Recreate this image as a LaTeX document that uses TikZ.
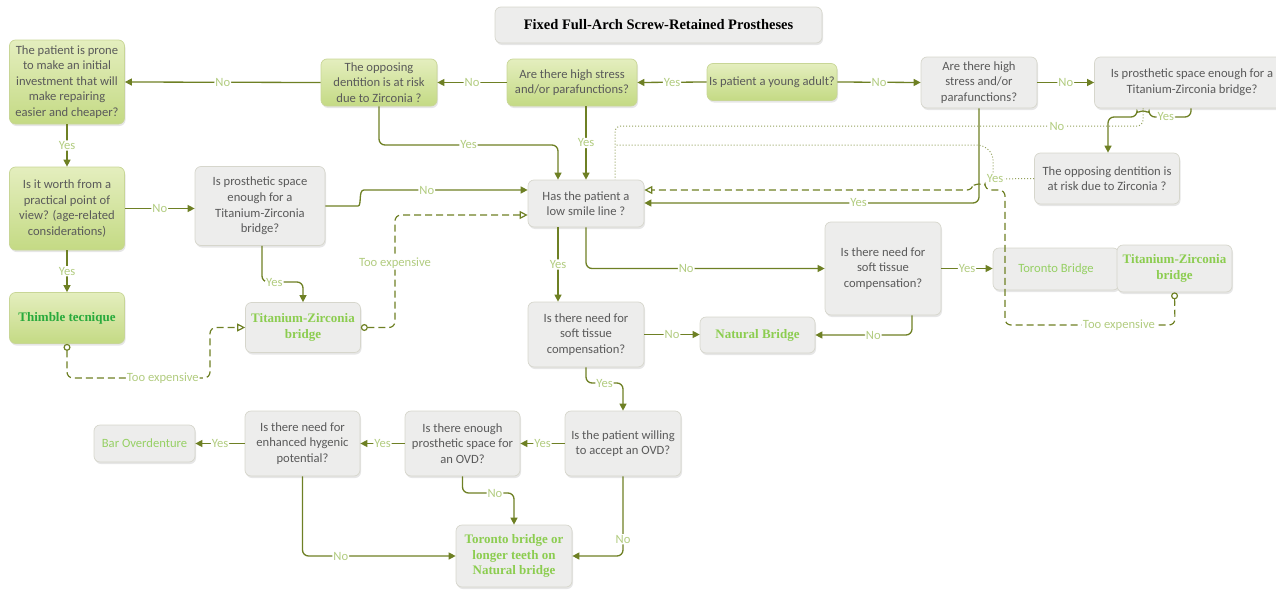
\documentclass[tikz,border=0pt]{standalone}
\usepackage{fontspec}
\setmainfont{Carlito}
\newfontfamily\serifb{Liberation Serif}
\usetikzlibrary{arrows.meta,shadows,calc}
\definecolor{lc}{RGB}{110,128,36}
\definecolor{labc}{RGB}{178,204,128}
\definecolor{txt}{RGB}{90,90,90}
\definecolor{gtop}{RGB}{228,238,190}
\definecolor{gbot}{RGB}{196,218,132}
\definecolor{gborder}{RGB}{200,214,150}
\definecolor{qfill}{RGB}{237,237,236}
\definecolor{qborder}{RGB}{214,214,204}
\definecolor{resg}{RGB}{140,205,80}
\definecolor{thimg}{RGB}{40,170,60}
\definecolor{lightres}{RGB}{150,208,100}
\begin{document}
\begin{tikzpicture}[x=1pt,y=-1pt,
  base/.style={rectangle, rounded corners=6pt, align=center,
    font=\fontsize{12.6}{15.6}\selectfont, text=txt, inner sep=1pt, line width=0.7pt,
    drop shadow={opacity=0.2, shadow xshift=1pt, shadow yshift=-2pt}},
  gbox/.style={base, draw=gborder, top color=gtop, bottom color=gbot},
  qbox/.style={base, draw=qborder, fill=qfill},
  res/.style={font=\serifb\bfseries\fontsize{13}{15.5}\selectfont, text=resg},
  lres/.style={text=lightres},
  lab/.style={font=\fontsize{12.6}{12.6}\selectfont, text=labc, fill=white, inner sep=1pt},
  arr/.style={draw=lc, line width=1.3pt, rounded corners=6pt, -{Triangle[length=7pt,width=7pt]}},
  dasharr/.style={draw=lc, line width=1.2pt, rounded corners=6pt, dash pattern=on 7pt off 4pt,
    {Circle[open,length=7pt,width=7pt,fill=white]}-{Triangle[open,length=8pt,width=8pt,fill=white]}},
  dotl/.style={draw=lc!75, line width=1pt, rounded corners=6pt, dotted}]
\useasboundingbox (0,0) rectangle (1276,589);

% title
\node[qbox, minimum width=327, minimum height=36,
  font=\serifb\bfseries\fontsize{14.5}{16}\selectfont, text=black] (T) at (658.5,25)
  {Fixed Full-Arch Screw-Retained Prostheses};

% nodes
\node[gbox, minimum width=115, minimum height=84] (A1) at (67,82)
  {The patient is prone\\to make an initial\\investment that will\\make repairing\\easier and cheaper?};
\node[gbox, minimum width=115, minimum height=83] (A2) at (67,208.5)
  {Is it worth from a\\practical point of\\view? (age-related\\considerations)};
\node[gbox, res, text=thimg, minimum width=115, minimum height=51] (A3) at (67,318)
  {Thimble tecnique};
\node[qbox, minimum width=130, minimum height=79] (B1) at (260,206)
  {Is prosthetic space\\enough for a\\Titanium-Zirconia\\bridge?};
\node[qbox, res, minimum width=115, minimum height=50] (B2) at (303,327.5)
  {Titanium-Zirconia\\bridge};
\node[gbox, minimum width=116, minimum height=47] (C1) at (379,82.5)
  {The opposing\\dentition is at risk\\due to Zirconia ?};
\node[gbox, minimum width=130, minimum height=47] (C2) at (572,82.5)
  {Are there high stress\\and/or parafunctions?};
\node[gbox, minimum width=130, minimum height=37] (C3) at (772,82)
  {Is patient a young adult?};
\node[qbox, minimum width=116, minimum height=51] (C4) at (979,82.5)
  {Are there high\\stress and/or\\parafunctions?};
\node[qbox, minimum width=195, minimum height=51] (C5) at (1192,82.5)
  {Is prosthetic space enough for a\\Titanium-Zirconia bridge?};
\node[qbox, minimum width=116, minimum height=47] (D) at (586,203.5)
  {Has the patient a\\low smile line ?};
\node[qbox, minimum width=145, minimum height=51] (E) at (1107,178.5)
  {The opposing dentition is\\at risk due to Zirconia ?};
\node[qbox, minimum width=116, minimum height=93] (F) at (883,268.5)
  {Is there need for\\soft tissue\\compensation?};
\node[qbox, lres, minimum width=126, minimum height=42] (G) at (1056,269)
  {Toronto Bridge};
\node[qbox, res, minimum width=115, minimum height=47] (H) at (1174.5,268.5)
  {Titanium-Zirconia\\bridge};
\node[qbox, minimum width=116, minimum height=65] (I) at (586,334.5)
  {Is there need for\\soft tissue\\compensation?};
\node[qbox, res, minimum width=115, minimum height=36] (J) at (757.5,335)
  {Natural Bridge};
\node[qbox, minimum width=116, minimum height=65] (K) at (623,443.5)
  {Is the patient willing\\to accept an OVD?};
\node[qbox, minimum width=115, minimum height=65] (L) at (462.5,443.5)
  {Is there enough\\prosthetic space for\\an OVD?};
\node[qbox, minimum width=115, minimum height=65] (M) at (302.5,443.5)
  {Is there need for\\enhanced hygenic\\potential?};
\node[qbox, lres, minimum width=101, minimum height=37] (N) at (144.5,443.5)
  {Bar Overdenture};
\node[qbox, res, minimum width=116, minimum height=62] (O) at (514,556)
  {Toronto bridge or\\longer teeth on\\Natural bridge};

% top row
\draw[arr] (C3.west) -- node[lab]{Yes} (C2.east);
\draw[arr] (C2.west) -- node[lab]{No} (C1.east);
\draw[arr] (C1.west) -- node[lab]{No} (A1.east);
\draw[arr] (C3.east) -- node[lab]{No} (C4.west);
\draw[arr] (C4.east) -- node[lab]{No} (C5.west);

% left column
\draw[arr] (A1.south) -- node[lab]{Yes} (A2.north);
\draw[arr] (A2.south) -- node[lab]{Yes} (A3.north);
\draw[arr] (A2.east) -- node[lab]{No} (A2.east -| B1.west);
\draw[arr] (B1.east) -- (352,206) .. controls (362,206) and (358,190) .. (370,190)
  -- node[lab,pos=0.36]{No} (D.west |- 0,190);
\draw[arr] (262,0 |- B1.south) -- (262,282) -- node[lab,pos=0.3]{Yes} (303,282) -- (B2.north);

% into D from top
\draw[arr] (C1.south) -- (379,145) -- node[lab]{Yes} (558,145) -- (558,0 |- D.north);
\draw[arr] (586,0 |- C2.south) -- node[lab]{Yes} (586,0 |- D.north);
\draw[arr] (C4.south) -- (979,203) -- node[lab,pos=0.36]{Yes} (D.east |- 0,203);

% dotted
\draw[dotl] (1143,0 |- C5.south) -- (1143,126) -- node[lab,pos=0.163]{No} (615,126) -- (615,0 |- D.north);
\draw[dotl] (E.west) -- node[lab,pos=0.95]{Yes} (993,179) -- (993,154) -- (983,145) -- (615,145);
\draw[arr] (1191,0 |- C5.south) -- (1191,117) -- node[lab,pos=0.6]{Yes} (1149,117)
  arc[start angle=0, end angle=-180, radius=6] -- (1108,117) -- (1108,0 |- E.north);

% dashed from H
\draw[dasharr] (H.south) -- (1175,325) -- node[lab,pos=0.33]{Too expensive} (1005,325)
  -- (1005,190) -- (985,190) arc[start angle=0, end angle=-180, radius=6] -- (D.east |- 0,190);

% from D
\draw[arr] (558,0 |- D.south) -- node[lab]{Yes} (558,0 |- I.north);
\draw[arr] (586,0 |- D.south) -- (586,0 |- F.west) -- node[lab,pos=0.42]{No} (F.west);
\draw[arr] (F.east) -- node[lab]{Yes} (F.east -| G.west);
\draw[arr] (912,0 |- F.south) -- (912,0 |- J.east) -- node[lab,pos=0.4]{No} (J.east);
\draw[arr] (I.east) -- node[lab]{No} (I.east -| J.west);
\draw[arr] (586,0 |- I.south) -- (586,383) -- node[lab]{Yes} (623,383) -- (K.north);

% bottom
\draw[arr] (K.west) -- node[lab]{Yes} (L.east);
\draw[arr] (L.west) -- node[lab]{Yes} (M.east);
\draw[arr] (M.west) -- node[lab]{Yes} (N.east);
\draw[arr] (L.south) -- (462.5,493) -- node[lab,pos=0.63]{No} (514,493) -- (O.north);
\draw[arr] (K.south) -- node[lab,pos=0.79]{No} (K.south |- O.east) -- (O.east);
\draw[arr] (M.south) -- (M.south |- O.west) -- node[lab,pos=0.25]{No} (O.west);

% dashed too expensive
\draw[dasharr] (A3.south) -- (67,378) -- node[lab,pos=0.67]{Too expensive} (210,378)
  -- (210,0 |- B2.west) -- (B2.west);
\draw[dasharr] (B2.east) -- (395,0 |- B2.east) -- node[lab,pos=0.57]{Too expensive} (395,215)
  -- (D.west |- 0,215);
\end{tikzpicture}
\end{document}
